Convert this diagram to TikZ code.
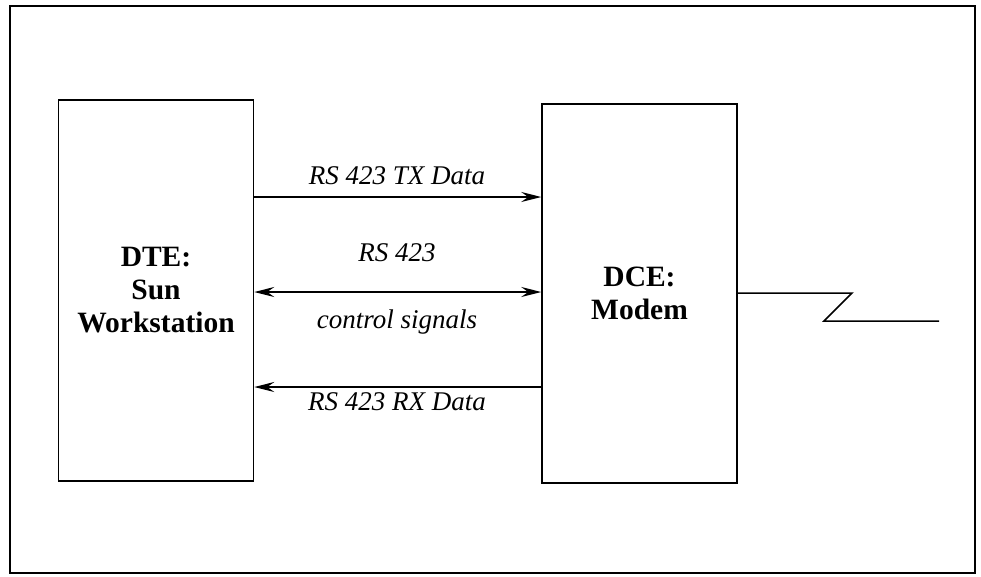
\documentclass[tikz,border=0pt]{standalone}
\usepackage{fontspec}
\setmainfont{Liberation Serif}
\usetikzlibrary{arrows.meta}

\begin{document}
\begin{tikzpicture}[x=1pt,y=-1pt,line width=1.5pt,
    box/.style={draw,minimum width=195pt,align=center,inner sep=0pt,
      font=\fontsize{29.5}{33}\selectfont\bfseries},
    lbl/.style={font=\fontsize{27}{30}\selectfont\itshape,inner sep=0pt},
    >={Stealth[length=20pt,width=10pt,inset=7pt]}]
    \useasboundingbox (0,0) rectangle (981,576);
    \draw (10,6) rectangle (975,573);
    \node[box,minimum height=381pt] (dte) at (156,290.5) {DTE:\\Sun\\Workstation};
    \node[box,minimum height=379pt] (dce) at (639.5,293.5) {DCE:\\Modem};
    \coordinate (tx) at (400,197);
    \coordinate (ctl) at (400,292);
    \coordinate (rx) at (400,387);
    \coordinate (knee) at (852,293);
    \coordinate (kneeb) at (824,321);
    \coordinate (line) at (939,321);
    \draw[->] (dte.east |- tx) -- (dce.west |- tx);
    \draw[<->] (dte.east |- ctl) -- (dce.west |- ctl);
    \draw[<-] (dte.east |- rx) -- (dce.west |- rx);
    \node[lbl] (txlbl) at (397,176) {RS 423 TX Data};
    \node[lbl] (ctllbl) at (397,253) {RS 423};
    \node[lbl] (ctllblb) at (397,322) {control signals};
    \node[lbl] (rxlbl) at (397,402) {RS 423 RX Data};
    \draw (dce.east |- knee) -- (knee) -- (kneeb) -- (line);
  \end{tikzpicture}
\end{document}
